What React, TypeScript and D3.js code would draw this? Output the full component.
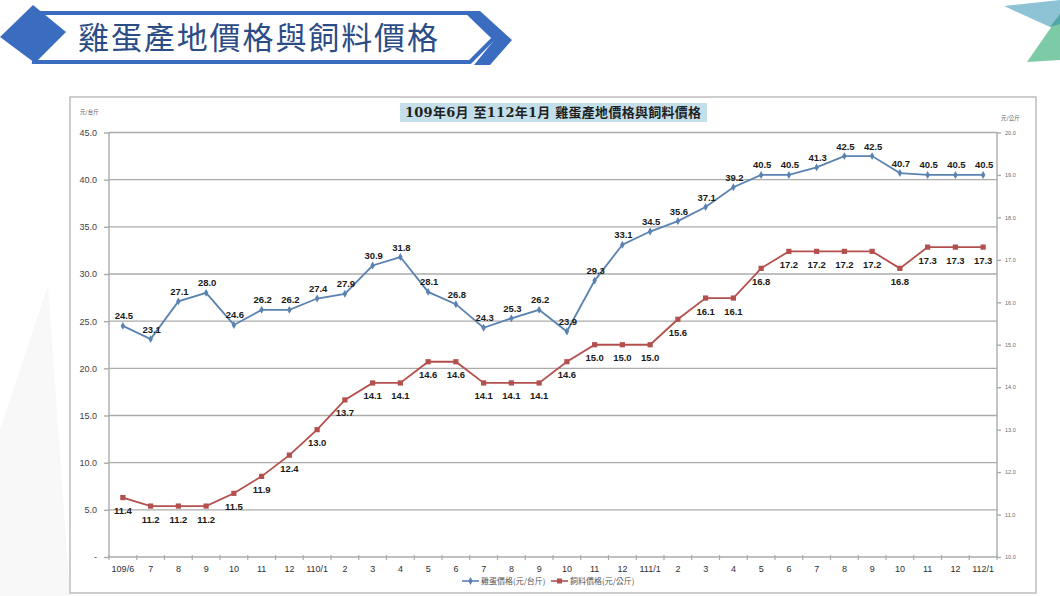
import React, {useRef, useEffect} from "react";
import * as d3 from "d3";

// 109/6 ~ 112/1 monthly
const months = [
  "109/6", "7", "8", "9", "10", "11", "12",
  "110/1", "2", "3", "4", "5", "6", "7", "8", "9", "10", "11", "12",
  "111/1", "2", "3", "4", "5", "6", "7", "8", "9", "10", "11", "12",
  "112/1",
];

// 雞蛋價格 (元/台斤), left axis
const eggPrice = [
  24.5, 23.1, 27.1, 28.0, 24.6, 26.2, 26.2,
  27.4, 27.9, 30.9, 31.8, 28.1, 26.8, 24.3, 25.3, 26.2, 23.9, 29.3, 33.1,
  34.5, 35.6, 37.1, 39.2, 40.5, 40.5, 41.3, 42.5, 42.5, 40.7, 40.5, 40.5,
  40.5,
];

// 飼料價格 (元/公斤), right axis
const feedPrice = [
  11.4, 11.2, 11.2, 11.2, 11.5, 11.9, 12.4,
  13.0, 13.7, 14.1, 14.1, 14.6, 14.6, 14.1, 14.1, 14.1, 14.6, 15.0, 15.0,
  15.0, 15.6, 16.1, 16.1, 16.8, 17.2, 17.2, 17.2, 17.2, 16.8, 17.3, 17.3,
  17.3,
];

const leftTicks = [0, 5, 10, 15, 20, 25, 30, 35, 40, 45];
const rightTicks = [10, 11, 12, 13, 14, 15, 16, 17, 18, 19, 20];

const seriesNames = ["雞蛋價格(元/台斤)", "飼料價格(元/公斤)"];
const pageTitle = "雞蛋產地價格與飼料價格";
const chartTitle = "109年6月 至112年1月 雞蛋產地價格與飼料價格";

const BLUE = "#5a83b1";
const RED = "#b3504d";
const GRID = "#ababab";
const FONT = "'Liberation Sans', Arial, 'Noto Sans CJK TC', sans-serif";

export default function App() {
  const svgRef = useRef<SVGSVGElement>(null);

  useEffect(() => {
    document.body.style.margin = "0";
    if (!svgRef.current) return;
    const svg = d3.select(svgRef.current);
    svg.selectAll("*").remove();

    const W = 1060;
    const H = 596;
    const plot = {left: 109, right: 997, top: 132.5, bottom: 557};

    svg.attr("width", W).attr("height", H);

    // page background
    svg.append("rect").attr("width", W).attr("height", H).attr("fill", "#ffffff");
    svg
      .append("polygon")
      .attr("points", "0,430 48,285 70,596 0,596")
      .attr("fill", "#f8f8f8");

    // corner decoration
    svg
      .append("polygon")
      .attr("points", "1004,6 1060,0 1060,24 1050,27")
      .attr("fill", "#8ec3d6");
    svg
      .append("polygon")
      .attr("points", "1027,62 1052,26 1060,14 1060,60")
      .attr("fill", "#7ccaa6");
    svg
      .append("polygon")
      .attr("points", "1050,27 1060,24 1060,14")
      .attr("fill", "#4fa8a8");

    // page banner
    svg
      .append("polygon")
      .attr("points", "40,13 468,13 494,38 470,62 34,62")
      .attr("fill", "#ffffff")
      .attr("stroke", "#3a6cc0")
      .attr("stroke-width", 4);
    svg
      .append("polygon")
      .attr("points", "0,37 33,5 66,32 35,63")
      .attr("fill", "#3a6cc0");
    svg
      .append("polygon")
      .attr("points", "466,11 480,11 512,40 490,65 474,65 496,38")
      .attr("fill", "#3a6cc0");
    svg
      .append("text")
      .attr("x", 78)
      .attr("y", 49)
      .attr("font-family", "'Noto Sans CJK TC', sans-serif")
      .attr("font-size", 31)
      .attr("fill", "#2c4c86")
      .attr("textLength", 360)
      .text(pageTitle);

    // chart frame
    svg
      .append("rect")
      .attr("x", 70)
      .attr("y", 97)
      .attr("width", 966)
      .attr("height", 496)
      .attr("fill", "#ffffff")
      .attr("stroke", "#bdbdbd")
      .attr("stroke-width", 1.5);

    // chart title with highlight
    svg
      .append("rect")
      .attr("x", 400)
      .attr("y", 103)
      .attr("width", 307)
      .attr("height", 19)
      .attr("fill", "#c4dfe9");
    svg
      .append("text")
      .attr("x", 553)
      .attr("y", 117)
      .attr("text-anchor", "middle")
      .attr("font-family", "'DejaVu Serif', 'Noto Sans CJK TC', serif")
      .attr("font-size", 13)
      .attr("font-weight", 600)
      .attr("fill", "#1f1f1f")
      .attr("textLength", 296)
      .text(chartTitle);

    // Scales
    const x = d3
      .scaleBand<number>()
      .domain(d3.range(months.length))
      .range([plot.left, plot.right]);
    const cx = (i: number) => (x(i) as number) + x.bandwidth() / 2;
    const yL = d3.scaleLinear().domain([0, 45]).range([plot.bottom, plot.top]);
    const yR = d3.scaleLinear().domain([10, 20]).range([plot.bottom, plot.top]);

    // Grid lines
    svg
      .append("g")
      .selectAll("line")
      .data(leftTicks.filter((d) => d > 0))
      .join("line")
      .attr("x1", plot.left)
      .attr("x2", plot.right)
      .attr("y1", (d) => yL(d))
      .attr("y2", (d) => yL(d))
      .attr("stroke", GRID)
      .attr("stroke-width", 1.4);

    // Left axis
    const gL = svg
      .append("g")
      .attr("transform", `translate(${plot.left},0)`)
      .call(
        d3
          .axisLeft(yL)
          .tickValues(leftTicks)
          .tickSize(5)
          .tickPadding(7)
          .tickFormat((d) => (+d === 0 ? "-" : (+d).toFixed(1)))
      );
    gL.selectAll("path,line").attr("stroke", GRID).attr("stroke-width", 1.4);
    gL.select(".domain").attr("d", `M0,${plot.top}V${plot.bottom}`);
    gL.selectAll("text")
      .attr("fill", "#3f3f3f")
      .style("font-size", "9px")
      .style("font-family", FONT);

    // Right axis
    const gR = svg
      .append("g")
      .attr("transform", `translate(${plot.right},0)`)
      .call(
        d3
          .axisRight(yR)
          .tickValues(rightTicks)
          .tickSize(4)
          .tickPadding(4)
          .tickFormat((d) => (+d).toFixed(1))
      );
    gR.selectAll("path,line").attr("stroke", GRID).attr("stroke-width", 1.4);
    gR.select(".domain").attr("d", `M0,${plot.top}V${plot.bottom}`);
    gR.selectAll("text")
      .attr("fill", "#6a6a6a")
      .style("font-size", "5.5px")
      .style("font-family", FONT);

    // X axis
    const gX = svg
      .append("g")
      .attr("transform", `translate(0,${plot.bottom})`)
      .call(
        d3
          .axisBottom(x)
          .tickSize(0)
          .tickPadding(9)
          .tickFormat((i) => months[i as number])
      );
    gX.select(".domain")
      .attr("d", `M${plot.left},0H${plot.right}`)
      .attr("stroke", GRID)
      .attr("stroke-width", 1.4);
    gX.selectAll("text")
      .attr("fill", "#2f2f2f")
      .style("font-size", "9px")
      .style("font-family", FONT);
    svg
      .append("g")
      .selectAll("line")
      .data(d3.range(months.length + 1))
      .join("line")
      .attr("x1", (i) => plot.left + i * x.step())
      .attr("x2", (i) => plot.left + i * x.step())
      .attr("y1", plot.bottom - 2)
      .attr("y2", plot.bottom + 3)
      .attr("stroke", GRID)
      .attr("stroke-width", 1.2);

    // Units
    svg
      .append("text")
      .attr("x", 80)
      .attr("y", 114)
      .attr("font-size", 5.5)
      .attr("font-family", "'Noto Sans CJK TC', sans-serif")
      .attr("fill", "#555")
      .text("元/台斤");
    svg
      .append("text")
      .attr("x", 1001)
      .attr("y", 120)
      .attr("font-size", 5.5)
      .attr("font-family", "'Noto Sans CJK TC', sans-serif")
      .attr("fill", "#555")
      .text("元/公斤");

    // Lines
    const eggLine = d3
      .line<number>()
      .x((_, i) => cx(i))
      .y((d) => yL(d));
    const feedLine = d3
      .line<number>()
      .x((_, i) => cx(i))
      .y((d) => yR(d));

    svg
      .append("path")
      .datum(eggPrice)
      .attr("d", eggLine)
      .attr("fill", "none")
      .attr("stroke", BLUE)
      .attr("stroke-width", 1.8);
    svg
      .append("path")
      .datum(feedPrice)
      .attr("d", feedLine)
      .attr("fill", "none")
      .attr("stroke", RED)
      .attr("stroke-width", 1.8);

    // Markers
    const diamond = d3.symbol().type(d3.symbolDiamond).size(18);
    svg
      .append("g")
      .selectAll("path")
      .data(eggPrice)
      .join("path")
      .attr("d", diamond)
      .attr("transform", (d, i) => `translate(${cx(i)},${yL(d)})`)
      .attr("fill", BLUE);
    svg
      .append("g")
      .selectAll("rect")
      .data(feedPrice)
      .join("rect")
      .attr("x", (d, i) => cx(i) - 2.6)
      .attr("y", (d) => yR(d) - 2.6)
      .attr("width", 5.2)
      .attr("height", 5.2)
      .attr("fill", RED);

    // Data labels
    svg
      .append("g")
      .selectAll("text")
      .data(eggPrice)
      .join("text")
      .attr("x", (d, i) => cx(i) + 1)
      .attr("y", (d) => yL(d) - 6.5)
      .attr("text-anchor", "middle")
      .attr("font-family", FONT)
      .attr("font-weight", "bold")
      .attr("font-size", 9.5)
      .attr("fill", "#1a1a1a")
      .text((d) => d.toFixed(1));
    svg
      .append("g")
      .selectAll("text")
      .data(feedPrice)
      .join("text")
      .attr("x", (d, i) => cx(i))
      .attr("y", (d) => yR(d) + 16.5)
      .attr("text-anchor", "middle")
      .attr("font-family", FONT)
      .attr("font-weight", "bold")
      .attr("font-size", 9.5)
      .attr("fill", "#1a1a1a")
      .text((d) => d.toFixed(1));

    // Legend
    const legend = svg.append("g").attr("transform", "translate(462,581)");
    const items = [
      {name: seriesNames[0], color: BLUE, square: false, dx: 0},
      {name: seriesNames[1], color: RED, square: true, dx: 89},
    ];
    items.forEach((it) => {
      const g = legend.append("g").attr("transform", `translate(${it.dx},0)`);
      g.append("line")
        .attr("x1", 0)
        .attr("x2", 17)
        .attr("y1", 0)
        .attr("y2", 0)
        .attr("stroke", it.color)
        .attr("stroke-width", 1.6);
      if (it.square) {
        g.append("rect")
          .attr("x", 6)
          .attr("y", -2.5)
          .attr("width", 5)
          .attr("height", 5)
          .attr("fill", it.color);
      } else {
        g.append("path")
          .attr("d", diamond)
          .attr("transform", "translate(8.5,0)")
          .attr("fill", it.color);
      }
      g.append("text")
        .attr("x", 19)
        .attr("y", 3)
        .attr("font-family", "'Noto Sans CJK TC', sans-serif")
        .attr("font-size", 8)
        .attr("fill", "#555")
        .text(it.name);
    });

    return () => {
      d3.select(svgRef.current).selectAll("*").remove();
    };
  }, []);

  return (
    <div style={{width: 1060, height: 596}}>
      <svg ref={svgRef} style={{display: "block"}} />
    </div>
  );
}
